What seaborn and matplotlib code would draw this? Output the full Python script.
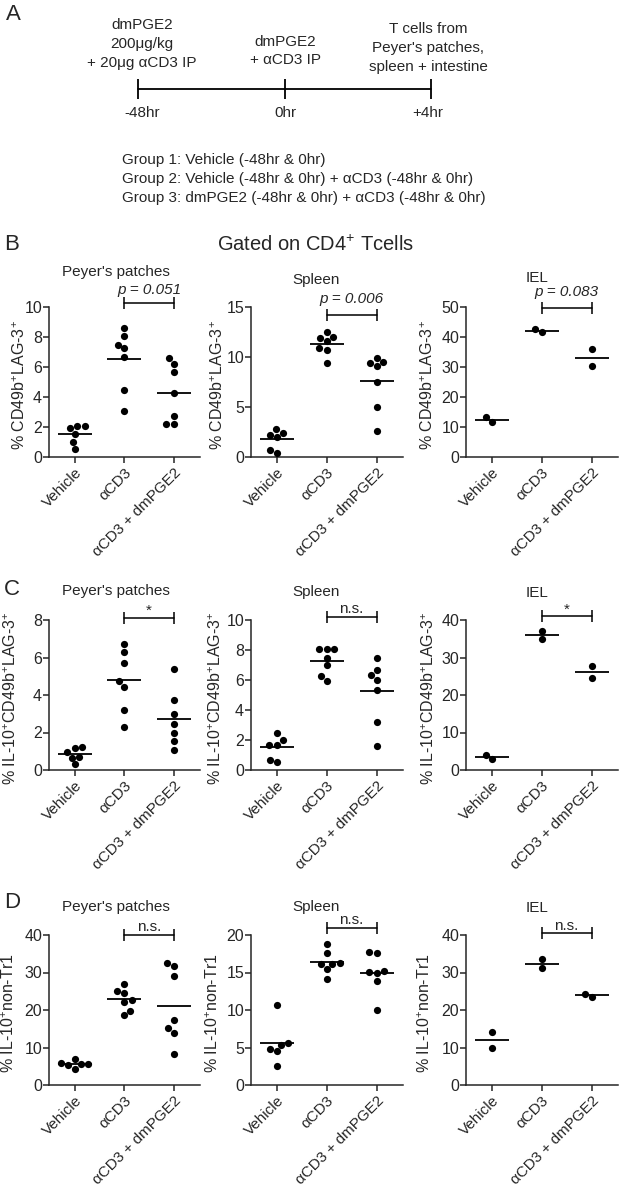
import pandas as pd
import matplotlib.pyplot as plt
import seaborn as sns

# categorias
cats = ["Vehicle", "αCD3", "αCD3 + dmPGE2"]

# B - CD49b+LAG-3+
b_pp_veh = [2.05, 1.94, 2.05, 1.56, 1.0, 0.54]
b_pp_acd3 = [8.6, 8.04, 7.48, 7.25, 6.7, 4.5, 3.08]
b_pp_pge = [6.58, 6.2, 5.65, 4.29, 2.72, 2.19, 2.19]
b_sp_veh = [2.78, 2.18, 2.0, 2.44, 0.44, 0.67]
b_sp_acd3 = [12.49, 11.89, 12.05, 11.65, 10.88, 10.71, 9.37]
b_sp_pge = [9.94, 9.37, 9.1, 9.47, 7.53, 5.02, 2.61]
b_iel_veh = [11.6, 13.2]
b_iel_acd3 = [41.7, 42.6]
b_iel_pge = [35.9, 30.4]

# C - IL-10+CD49b+LAG-3+
c_pp_veh = [1.18, 1.22, 0.95, 0.65, 0.68, 0.3]
c_pp_acd3 = [6.74, 6.3, 5.69, 4.45, 4.75, 3.21, 2.3]
c_pp_pge = [5.41, 3.74, 2.98, 2.45, 1.95, 1.56, 1.06]
c_sp_veh = [2.48, 1.7, 1.7, 1.97, 0.53, 0.66]
c_sp_acd3 = [8.05, 8.05, 8.05, 7.5, 7.01, 5.95, 6.24]
c_sp_pge = [7.5, 6.64, 6.35, 6.02, 5.35, 3.21, 1.59]
c_iel_veh = [2.9, 4.1]
c_iel_acd3 = [34.9, 37.2]
c_iel_pge = [27.7, 24.5]

# D - IL-10+ non-Tr1
d_pp_veh = [6.9, 5.9, 5.5, 5.6, 5.3, 4.3]
d_pp_acd3 = [26.9, 25.2, 24.6, 22.7, 22.2, 18.7, 19.8]
d_pp_pge = [31.8, 32.6, 29.1, 17.3, 15.1, 13.8, 8.4]
d_sp_veh = [10.67, 5.56, 4.84, 4.53, 5.33, 2.58]
d_sp_acd3 = [18.8, 17.56, 16.31, 16.13, 15.47, 16.09, 14.13]
d_sp_pge = [17.69, 17.56, 14.98, 15.2, 15.02, 13.91, 10.0]
d_iel_veh = [14.2, 10.0]
d_iel_acd3 = [31.2, 33.5]
d_iel_pge = [23.6, 24.3]

tissues = ["Peyer's patches", "Spleen", "IEL"]
ylabels = ["% CD49b$^{\\mathrm{+}}$LAG-3$^{\\mathrm{+}}$",
           "% IL-10$^{\\mathrm{+}}$CD49b$^{\\mathrm{+}}$LAG-3$^{\\mathrm{+}}$",
           "% IL-10$^{\\mathrm{+}}$non-Tr1"]
sig_b = ["p = 0.051", "p = 0.006", "p = 0.083"]
sig_c = ["*", "n.s.", "*"]
sig_d = ["n.s.", "n.s.", "n.s."]
ymax_b, step_b = [10, 15, 50], [2, 5, 10]
ymax_c, step_c = [8, 10, 40], [2, 2, 10]
ymax_d, step_d = [40, 20, 40], [10, 5, 10]

sns.set_style("ticks")
plt.rcParams['font.family'] = ['Liberation Sans', 'DejaVu Sans']
plt.rcParams['mathtext.fontset'] = 'custom'
plt.rcParams['mathtext.rm'] = 'Liberation Sans'
plt.rcParams['mathtext.it'] = 'Liberation Sans:italic'

W, H = 619, 1187
fig = plt.figure(figsize=(W / 100, H / 100), dpi=100)


def rect(x0, y0, w, h):
    return [x0 / W, 1 - (y0 + h) / H, w / W, h / H]


# painel A (esquema da linha do tempo)
axA = fig.add_axes([0, 1 - 230 / H, 1, 230 / H])
axA.set_xlim(0, W)
axA.set_ylim(230, 0)
axA.axis('off')
axA.plot([138, 431], [89, 89], color='black', lw=1.3)
axA.vlines([138, 285, 431], 79, 99, color='black', lw=1.3)
for xx, lab in zip([142, 285, 428], ["-48hr", "0hr", "+4hr"]):
    axA.text(xx, 113, lab, ha='center', va='center', fontsize=11)
axA.text(142, 44, "dmPGE2\n200μg/kg\n+ 20μg αCD3 IP", ha='center', va='center',
         fontsize=11, linespacing=1.45)
axA.text(285, 51, "dmPGE2\n+ αCD3 IP", ha='center', va='center', fontsize=11, linespacing=1.45)
axA.text(428, 48, "T cells from\nPeyer's patches,\nspleen + intestine", ha='center',
         va='center', fontsize=11, linespacing=1.45)
axA.text(122, 179, "Group 1: Vehicle (-48hr & 0hr)\n"
         "Group 2: Vehicle (-48hr & 0hr) + αCD3 (-48hr & 0hr)\n"
         "Group 3: dmPGE2 (-48hr & 0hr) + αCD3 (-48hr & 0hr)",
         ha='left', va='center', fontsize=11, linespacing=1.45)

for letter, xx, yy in zip("ABCD", [13, 12, 12, 12], [14, 245, 590, 902]):
    fig.text(xx / W, 1 - yy / H, letter, fontsize=16, ha='center', va='center')
fig.text(316 / W, 1 - 245 / H, "Gated on CD4$^{\\mathrm{+}}$ Tcells", fontsize=14.5,
         ha='center', va='center')

col_left = [49, 251, 466]
col_w = [151, 152, 152]
row_top = [307, 620, 935]
title_x = [0.44, 0.43, 0.47]
title_y = [[1.233, 1.18, 1.193], [1.193, 1.187, 1.18], [1.187, 1.187, 1.18]]
sig_y = [[1.113, 1.053, 1.10], [1.06, 1.073, 1.07], [1.053, 1.1, 1.06]]
brk_y = [[1.027, 0.947, 0.993], [1.013, 1.02, 1.03], [1.0, 1.047, 1.013]]
ylab_x = [[-0.14, -0.165, -0.2], [-0.2, -0.175, -0.19], [-0.21, -0.2, -0.22]]

rows = [
    [(b_pp_veh, b_pp_acd3, b_pp_pge), (b_sp_veh, b_sp_acd3, b_sp_pge), (b_iel_veh, b_iel_acd3, b_iel_pge)],
    [(c_pp_veh, c_pp_acd3, c_pp_pge), (c_sp_veh, c_sp_acd3, c_sp_pge), (c_iel_veh, c_iel_acd3, c_iel_pge)],
    [(d_pp_veh, d_pp_acd3, d_pp_pge), (d_sp_veh, d_sp_acd3, d_sp_pge), (d_iel_veh, d_iel_acd3, d_iel_pge)],
]
sigs = [sig_b, sig_c, sig_d]
ymaxs = [ymax_b, ymax_c, ymax_d]
steps = [step_b, step_c, step_d]

for r in range(3):
    for c in range(3):
        ax = fig.add_axes(rect(col_left[c], row_top[r], col_w[c], 150))
        groups = rows[r][c]
        df = pd.DataFrame({
            'group': [g for g, vals in zip(cats, groups) for _ in vals],
            'value': [v for vals in groups for v in vals],
        })
        sns.swarmplot(data=df, x='group', y='value', order=cats, color='black',
                      size=5.2, ax=ax)
        sns.pointplot(data=df, x='group', y='value', order=cats, estimator='mean',
                      errorbar=None, markers='_', linestyle='none', color='black',
                      markersize=24, markeredgewidth=1.3, ax=ax)
        ax.set_xlim(-0.52, 2.53)
        ax.set_ylim(0, ymaxs[r][c])
        ax.set_yticks(range(0, ymaxs[r][c] + 1, steps[r][c]))
        ax.set_xticks([0, 1, 2])
        ax.set_xticklabels(cats, rotation=45, ha='right', rotation_mode='anchor', fontsize=11)
        ax.tick_params(axis='y', labelsize=11.5, length=4, width=1.1, pad=1)
        ax.tick_params(axis='x', length=4, width=1.1, pad=2)
        ax.set_xlabel('')
        ax.set_ylabel(ylabels[r], fontsize=11.5)
        ax.yaxis.set_label_coords(ylab_x[r][c], 0.48)
        for s in ['left', 'bottom']:
            ax.spines[s].set_linewidth(1.1)
        sns.despine(ax=ax)
        ax.text(title_x[c], title_y[r][c], tissues[c], transform=ax.transAxes,
                ha='center', va='center', fontsize=11)
        # colchete de significância
        tr = ax.get_xaxis_transform()
        yb = brk_y[r][c]
        ax.plot([1, 2], [yb, yb], color='black', lw=1.1, transform=tr, clip_on=False)
        ax.vlines([1, 2], yb - 0.04, yb + 0.04, color='black', lw=1.1, transform=tr,
                  clip_on=False)
        style = 'italic' if sigs[r][c].startswith('p') else 'normal'
        ax.text(1.5, sig_y[r][c], sigs[r][c], transform=tr, ha='center', va='center',
                fontsize=11, style=style)

fig.savefig("out.png", dpi=100)
